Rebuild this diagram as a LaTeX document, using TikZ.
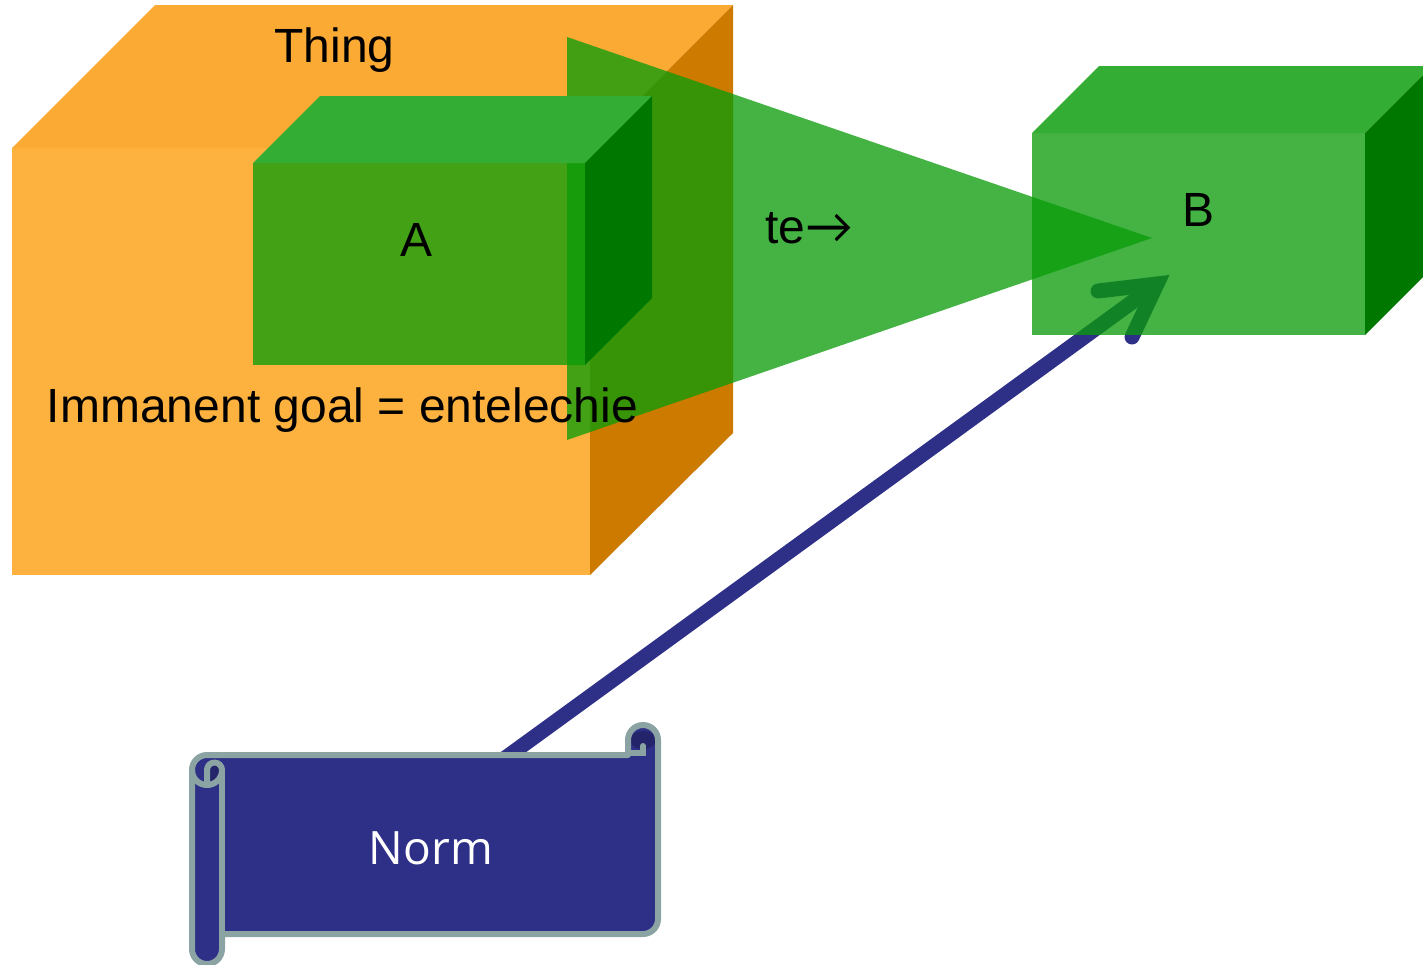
\documentclass[tikz,border=0pt]{standalone}
\usepackage{fontspec}
\setmainfont{Liberation Sans}
\newfontfamily\normfont{Open Sans}
\newfontfamily\arrowfont{Lato}
\definecolor{orFront}{HTML}{FDB240}
\definecolor{orTop}{HTML}{FBAA33}
\definecolor{orRight}{HTML}{CC7A00}
\definecolor{grFront}{RGB}{10,156,10}
\definecolor{grTop}{HTML}{33AD33}
\definecolor{grRight}{HTML}{007800}
\definecolor{navy}{HTML}{2E3087}
\definecolor{navyDark}{HTML}{23246A}
\definecolor{scrollEdge}{HTML}{8BA3A3}
\begin{document}
\begin{tikzpicture}[x=1pt,y=-1pt,
  txt/.style={font=\fontsize{48}{56}\selectfont, text=black, inner sep=0pt},
  normtxt/.style={font=\normfont\fontsize{46}{54}\selectfont, text=white, inner sep=0pt},
  glass/.style={fill=grFront, fill opacity=0.766},
  arrowline/.style={draw=navy, line width=15pt}
]
\useasboundingbox (0,0) rectangle (1423,964);
% Thing cube
\fill[orFront] (12,148) rectangle (590,575);
\fill[orTop] (12,148) -- (155,5) -- (733,5) -- (590,148) -- cycle;
\fill[orRight] (590,148) -- (733,5) -- (733,433) -- (590,575) -- cycle;
% te triangle
\fill[glass] (567,37) -- (1152,238) -- (567,440) -- cycle;
% cube A
\fill[glass] (253,163) rectangle (585,365);
\fill[grTop] (253,163) -- (320,96) -- (652,96) -- (585,163) -- cycle;
\fill[grRight] (585,163) -- (652,96) -- (652,298) -- (585,365) -- cycle;
% connector Norm -> B
\coordinate (arrS) at (471,783);
\coordinate (arrT) at (1157,284);
\coordinate (armL) at (1098,291);
\coordinate (armR) at (1132,337);
\draw[arrowline] (arrS) -- (arrT);
\draw[arrowline, line cap=round, line join=miter] (armL) -- (arrT) -- (armR);
% cube B
\fill[glass] (1032,133) rectangle (1365,335);
\fill[grTop] (1032,133) -- (1099,66) -- (1432,66) -- (1365,133) -- cycle;
\fill[grRight] (1365,133) -- (1432,66) -- (1432,268) -- (1365,335) -- cycle;
% Norm scroll
\fill[navy] (192,770) arc[start angle=180, delta angle=90, radius=15]
  -- (628,755) -- (628,740) arc[start angle=180, delta angle=180, radius=15]
  -- (658,919) arc[start angle=0, delta angle=90, radius=15]
  -- (222,934) -- (222,949) arc[start angle=0, delta angle=180, radius=15] -- cycle;
\fill[navyDark] (643,740) ellipse[x radius=13, y radius=9];
\fill[navyDark] (207,785) -- (207,770) arc[start angle=180, delta angle=180, radius=7.5]
  arc[start angle=0, delta angle=90, radius=15] -- cycle;
\draw[scrollEdge, line width=6pt, line join=round]
  (192,770) arc[start angle=180, delta angle=90, radius=15]
  -- (628,755) -- (628,740) arc[start angle=180, delta angle=180, radius=15]
  -- (658,919) arc[start angle=0, delta angle=90, radius=15]
  -- (222,934) -- (222,949) arc[start angle=0, delta angle=180, radius=15] -- cycle;
\draw[scrollEdge, line width=6pt, line cap=round]
  (630,753) -- (643,753) -- (643,746);
\draw[scrollEdge, line width=6pt, line join=round]
  (207,785) -- (207,770) arc[start angle=180, delta angle=180, radius=7.5]
  arc[start angle=0, delta angle=180, radius=15];
\draw[scrollEdge, line width=6pt] (222,770) -- (222,934);
% labels
\node[txt, anchor=base] (thing) at (334.5,62) {Thing};
\node[txt, anchor=base] (goal) at (342.5,422) {Immanent goal = entelechie};
\node[txt, anchor=base] (labA) at (417,256) {A};
\node[txt, anchor=base] (labB) at (1198,226) {B};
\node[txt, anchor=base west] (te) at (765,243) {te{\arrowfont →}};
\node[normtxt, anchor=base] (norm) at (431,864) {Norm};
\end{tikzpicture}
\end{document}
